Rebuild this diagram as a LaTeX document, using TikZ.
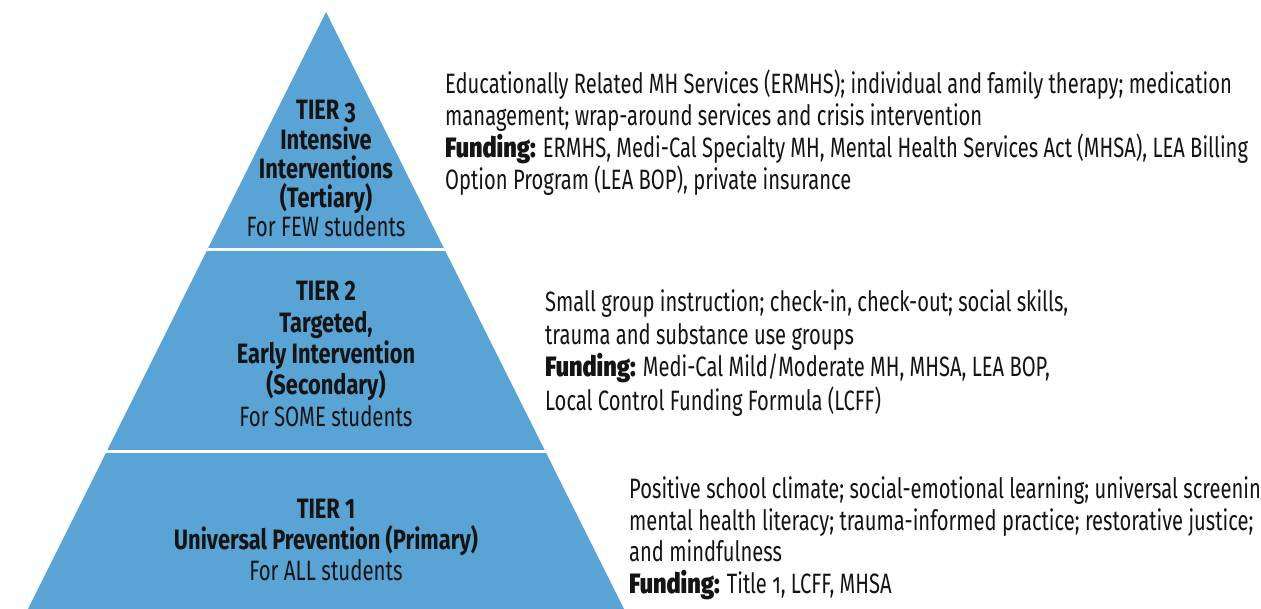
\documentclass[tikz,border=0pt]{standalone}
\usepackage{fontspec}
\setmainfont{Fira Sans}[FakeStretch=0.72]
\newfontfamily\labfont{Fira Sans}[FakeStretch=0.73]
\newfontfamily\labbold{Fira Sans Bold}[FakeStretch=0.78]
\newfontfamily\heavy{Fira Sans Black}[FakeStretch=0.84]
\definecolor{pyr}{RGB}{89,163,213}
\definecolor{ink}{RGB}{20,20,20}
\newcommand{\fund}{{\heavy Funding:}}
\begin{document}
\begin{tikzpicture}[x=1pt,y=-1pt,
  desc/.style={anchor=base west,inner sep=0pt,text=ink,font=\fontsize{28}{32}\selectfont},
  lab/.style={anchor=base,inner sep=0pt,text=ink,font=\labfont\fontsize{28}{30}\selectfont},
  labb/.style={anchor=base,inner sep=0pt,text=ink,font=\labbold\fontsize{28}{30}\selectfont},
  sep/.style={draw=white,line width=3pt}]
\useasboundingbox (0,0) rectangle (1261,609);
% pyramid
\coordinate (apex) at (326,12);
\coordinate (bl) at (28,609);
\coordinate (br) at (624,609);
\fill[pyr] (apex) -- (br) -- (bl) -- cycle;
\coordinate (s3l) at (200,249.5);
\coordinate (s3r) at (452,249.5);
\coordinate (s2l) at (100,451.5);
\coordinate (s2r) at (552,451.5);
\begin{scope}
\clip (apex) -- (br) -- (bl) -- cycle;
\draw[sep] (s3l) -- (s3r);
\draw[sep] (s2l) -- (s2r);
\end{scope}
% tier 3 label
\node[labb] (l3a) at (326,120) {TIER {\addfontfeatures{Numbers=OldStyle}3}};
\node[labb] (l3b) at (326,150) {Intensive};
\node[labb] (l3c) at (326,179) {Interventions};
\node[labb] (l3d) at (326,208) {(Tertiary)};
\node[lab] (l3e) at (326,237) {For FEW students};
% tier 2 label
\node[labb] (l2a) at (326,301) {TIER 2};
\node[labb] (l2b) at (326,333) {Targeted,};
\node[labb] (l2c) at (326,364) {Early Intervention};
\node[labb] (l2d) at (326,395) {(Secondary)};
\node[lab] (l2e) at (326,427) {For SOME students};
% tier 1 label
\node[labb] (l1a) at (326,518) {TIER 1};
\node[labb] (l1b) at (326,549) {Universal Prevention (Primary)};
\node[lab] (l1c) at (326,580) {For ALL students};
% tier 3 description
\node[desc] (d3a) at (445,94) {Educationally Related MH Services (ERMHS); individual and family therapy; medication};
\node[desc] (d3b) at (445,126) {management; wrap-around services and crisis intervention};
\node[desc] (d3c) at (445,158) {\fund{} ERMHS, Medi-Cal Specialty MH, Mental Health Services Act (MHSA), LEA Billing};
\node[desc] (d3d) at (445,190) {Option Program (LEA BOP), private insurance};
% tier 2 description
\node[desc] (d2a) at (545,312) {Small group instruction; check-in, check-out; social skills,};
\node[desc] (d2b) at (545,345) {trauma and substance use groups};
\node[desc] (d2c) at (545,377) {\fund{} Medi-Cal Mild/Moderate MH, MHSA, LEA BOP,};
\node[desc] (d2d) at (545,410) {Local Control Funding Formula (LCFF)};
% tier 1 description
\node[desc] (d1a) at (629,498) {Positive school climate; social-emotional learning; universal screening;};
\node[desc] (d1b) at (629,530) {mental health literacy; trauma-informed practice; restorative justice;};
\node[desc] (d1c) at (629,561) {and mindfulness};
\node[desc] (d1d) at (629,593) {\fund{} Title {\addfontfeatures{Numbers=OldStyle}1}, LCFF, MHSA};
\end{tikzpicture}
\end{document}
